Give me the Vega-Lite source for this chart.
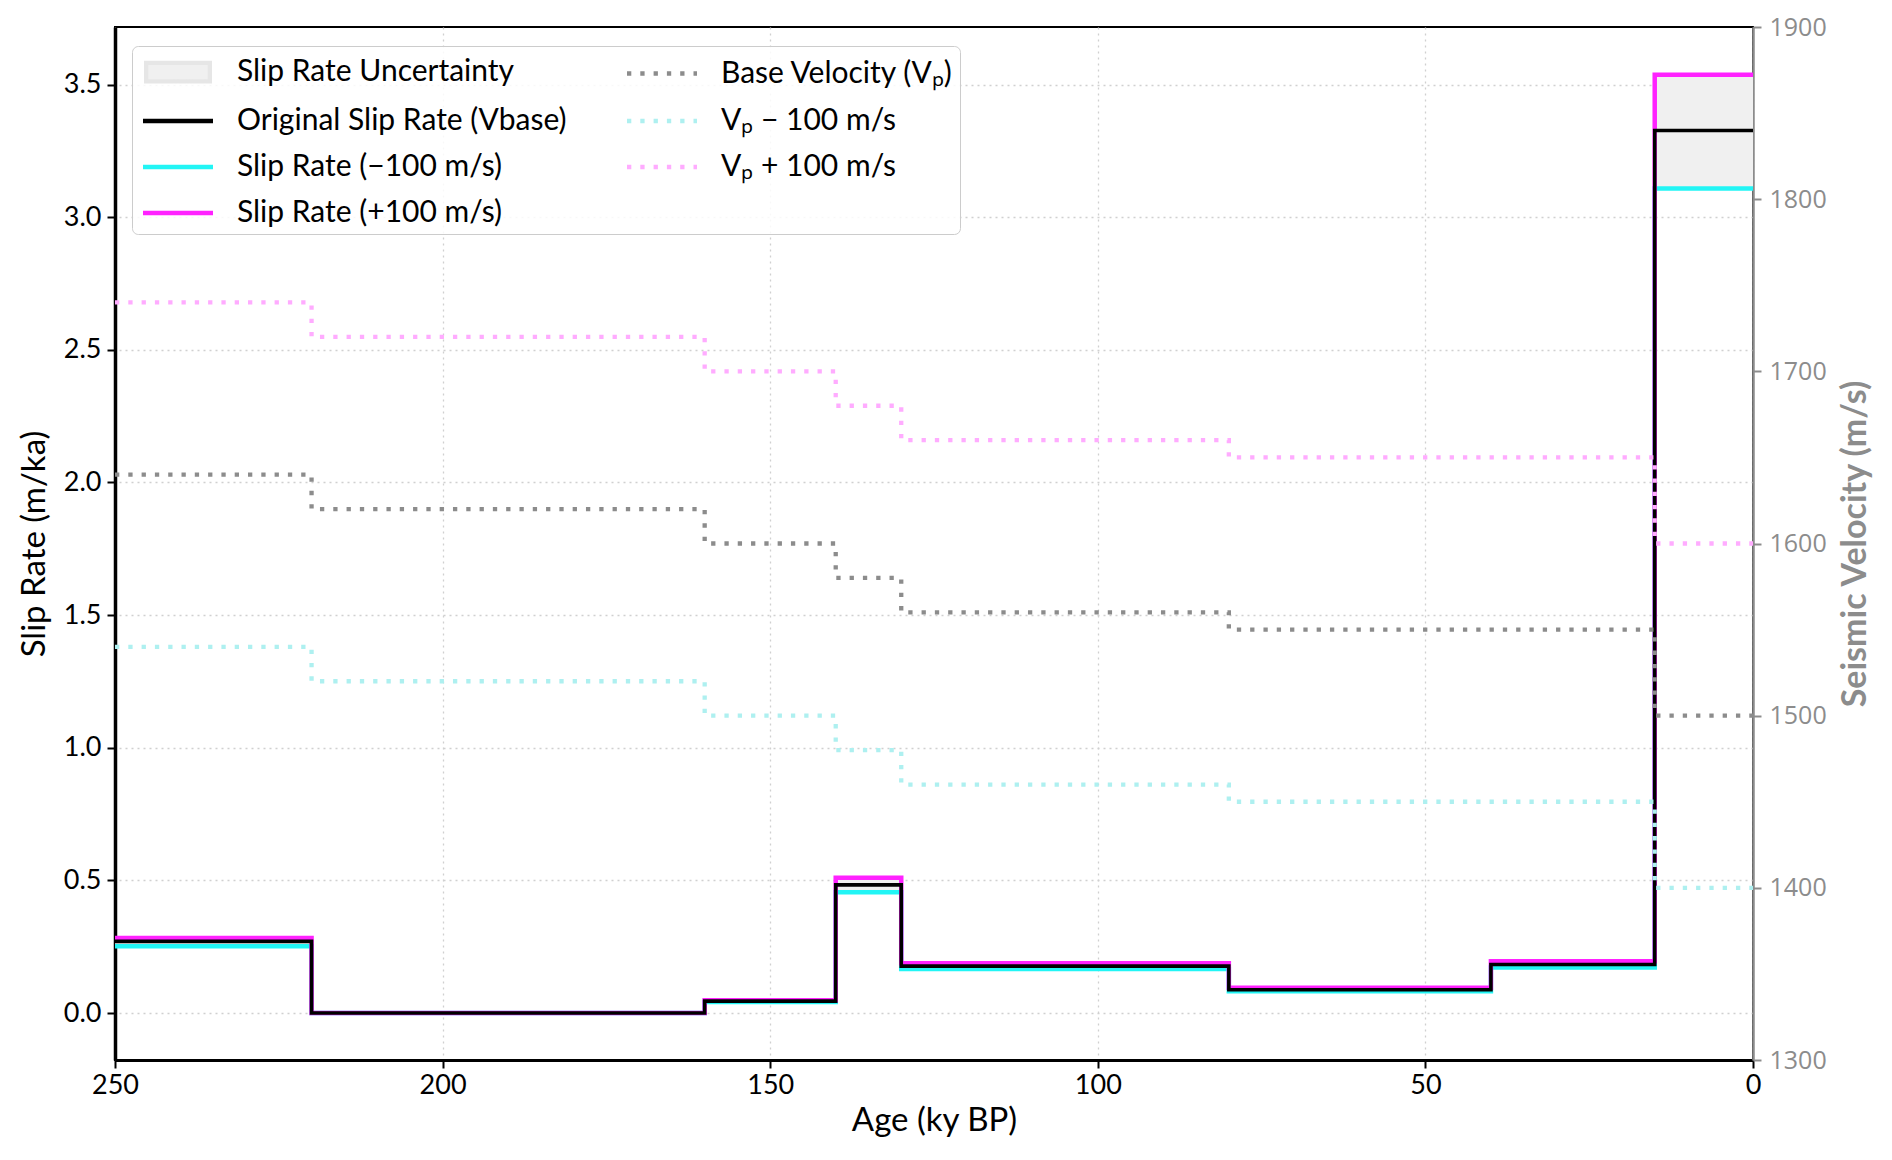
{
  "$schema": "https://vega.github.io/schema/vega-lite/v6.json",
  "width": 1638,
  "height": 1033,
  "autosize": {"type": "none"},
  "padding": {"left": 115, "top": 27, "right": 139, "bottom": 100},
  "background": "white",
  "config": {
    "view": {"stroke": "black", "strokeWidth": 2},
    "font": "Lato"
  },
  "data": {
    "values": [
      {"age": 0, "base": 3.327, "minus": 3.108, "plus": 3.537, "vp": 1500, "vpm": 1400, "vpp": 1600},
      {"age": 15, "base": 0.183, "minus": 0.172, "plus": 0.195, "vp": 1550, "vpm": 1450, "vpp": 1650},
      {"age": 40, "base": 0.088, "minus": 0.082, "plus": 0.095, "vp": 1550, "vpm": 1450, "vpp": 1650},
      {"age": 80, "base": 0.177, "minus": 0.166, "plus": 0.188, "vp": 1560, "vpm": 1460, "vpp": 1660},
      {"age": 130, "base": 0.483, "minus": 0.455, "plus": 0.51, "vp": 1580, "vpm": 1480, "vpp": 1680},
      {"age": 140, "base": 0.045, "minus": 0.042, "plus": 0.048, "vp": 1600, "vpm": 1500, "vpp": 1700},
      {"age": 160, "base": 0.0, "minus": 0.0, "plus": 0.0, "vp": 1620, "vpm": 1520, "vpp": 1720},
      {"age": 220, "base": 0.27, "minus": 0.252, "plus": 0.283, "vp": 1640, "vpm": 1540, "vpp": 1740},
      {"age": 250, "base": 0.27, "minus": 0.252, "plus": 0.283, "vp": 1640, "vpm": 1540, "vpp": 1740}
    ]
  },
  "encoding": {
    "x": {
      "field": "age",
      "type": "quantitative",
      "scale": {"domain": [0, 250], "reverse": true, "nice": false, "zero": false},
      "axis": {
        "values": [250, 200, 150, 100, 50, 0],
        "title": "Age (ky BP)",
        "titleFont": "Lato", "titleFontSize": 33, "titleFontWeight": "normal", "titleColor": "black", "titlePadding": 6,
        "labelFont": "Lato", "labelFontSize": 27, "labelColor": "black", "labelPadding": 4, "labelFlush": false,
        "tickColor": "black", "tickSize": 8, "tickWidth": 2,
        "domainColor": "black", "domainWidth": 3,
        "grid": true, "gridColor": "#d0d0d0", "gridDash": [2, 4], "gridWidth": 1.3
      }
    }
  },
  "layer": [
    {
      "encoding": {
        "y": {
          "type": "quantitative",
          "scale": {"domain": [-0.177, 3.717], "nice": false, "zero": false},
          "axis": {
            "values": [0, 0.5, 1, 1.5, 2, 2.5, 3, 3.5],
            "format": ".1f",
            "title": "Slip Rate (m/ka)",
            "titleFont": "Lato", "titleFontSize": 33, "titleFontWeight": "normal", "titleColor": "black", "titlePadding": 12,
            "labelFont": "Lato", "labelFontSize": 27, "labelColor": "black", "labelPadding": 6, "labelFlush": false,
            "tickColor": "black", "tickSize": 8, "tickWidth": 2,
            "domainColor": "black", "domainWidth": 3.5,
            "grid": true, "gridColor": "#d0d0d0", "gridDash": [2, 4], "gridWidth": 1.3
          }
        }
      },
      "layer": [
        {
          "mark": {"type": "area", "interpolate": "step-before", "opacity": 1},
          "encoding": {
            "y": {"field": "plus", "type": "quantitative"},
            "y2": {"field": "minus"},
            "color": {
              "datum": "Slip Rate Uncertainty",
              "type": "nominal",
              "scale": {
                "domain": ["Slip Rate Uncertainty", "Original Slip Rate (Vbase)", "Slip Rate (−100 m/s)", "Slip Rate (+100 m/s)", "Base Velocity (Vₚ)", "Vₚ − 100 m/s", "Vₚ + 100 m/s"],
                "range": ["#f0f0f0", "#000000", "#22f5f5", "#ff22ff", "#8c8c8c", "#aef0f0", "#ffacff"]
              },
              "legend": {
                "title": null,
                "orient": "none",
                "legendX": 17,
                "legendY": 19,
                "columns": 2,
                "direction": "vertical",
                "symbolType": {"expr": "datum.value === 'Slip Rate Uncertainty' ? 'M-1.82,-0.53H1.82V0.53H-1.82Z' : 'M-2,0H2'"},
                "symbolStrokeColor": {"expr": "datum.value === 'Slip Rate Uncertainty' ? '#e6e6e6' : scale('color', datum.value)"},
                "symbolDash": {"expr": "indexof(datum.value, 'Vₚ') >= 0 ? [4.3, 9] : [1, 0]"},
                "symbolStrokeWidth": 4.3,
                "symbolOpacity": 1,
                "symbolSize": 1225,
                "symbolOffset": 20,
                "symbolLimit": 0,
                "labelLimit": 0,
                "labelFont": "Lato",
                "labelFontSize": 30,
                "labelColor": "black",
                "labelOffset": 39,
                "columnPadding": 51,
                "rowPadding": 11,
                "padding": 6,
                "fillColor": "rgba(255,255,255,0.85)",
                "strokeColor": "#cccccc",
                "cornerRadius": 6
              }
            }
          }
        },
        {
          "mark": {"type": "line", "interpolate": "step-before", "strokeCap": "butt", "stroke": "#22f5f5", "strokeWidth": 4.5},
          "encoding": {"y": {"field": "minus", "type": "quantitative"}}
        },
        {
          "mark": {"type": "line", "interpolate": "step-before", "strokeCap": "butt", "stroke": "#ff22ff", "strokeWidth": 4.5},
          "encoding": {"y": {"field": "plus", "type": "quantitative"}}
        },
        {
          "mark": {"type": "line", "interpolate": "step-before", "strokeCap": "butt", "stroke": "#000000", "strokeWidth": 3.6},
          "encoding": {"y": {"field": "base", "type": "quantitative"}}
        }
      ]
    },
    {
      "encoding": {
        "y": {
          "type": "quantitative",
          "scale": {"domain": [1300, 1900], "nice": false, "zero": false},
          "axis": {
            "orient": "right",
            "values": [1300, 1400, 1500, 1600, 1700, 1800, 1900],
            "format": "d",
            "title": "Seismic Velocity (m/s)",
            "titleAngle": -90,
            "titleBaseline": "top",
            "titleFont": "Lato", "titleFontSize": 34, "titleFontWeight": "bold", "titleColor": "#8c8c8c", "titlePadding": 12,
            "labelFont": "Open Sans", "labelFontSize": 25, "labelColor": "#8c8c8c", "labelPadding": 8, "labelFlush": false,
            "tickColor": "#8c8c8c", "tickSize": 8, "tickWidth": 2,
            "domainColor": "#8c8c8c", "domainWidth": 2.5,
            "grid": false
          }
        }
      },
      "layer": [
        {
          "mark": {"type": "line", "interpolate": "step-before", "strokeCap": "butt", "stroke": "#8c8c8c", "strokeWidth": 4.3, "strokeDash": [4.3, 9]},
          "encoding": {"y": {"field": "vp", "type": "quantitative"}}
        },
        {
          "mark": {"type": "line", "interpolate": "step-before", "strokeCap": "butt", "stroke": "#aef0f0", "strokeWidth": 4.3, "strokeDash": [4.3, 9]},
          "encoding": {"y": {"field": "vpm", "type": "quantitative"}}
        },
        {
          "mark": {"type": "line", "interpolate": "step-before", "strokeCap": "butt", "stroke": "#ffacff", "strokeWidth": 4.3, "strokeDash": [4.3, 9]},
          "encoding": {"y": {"field": "vpp", "type": "quantitative"}}
        }
      ]
    }
  ],
  "resolve": {"scale": {"y": "independent"}}
}
